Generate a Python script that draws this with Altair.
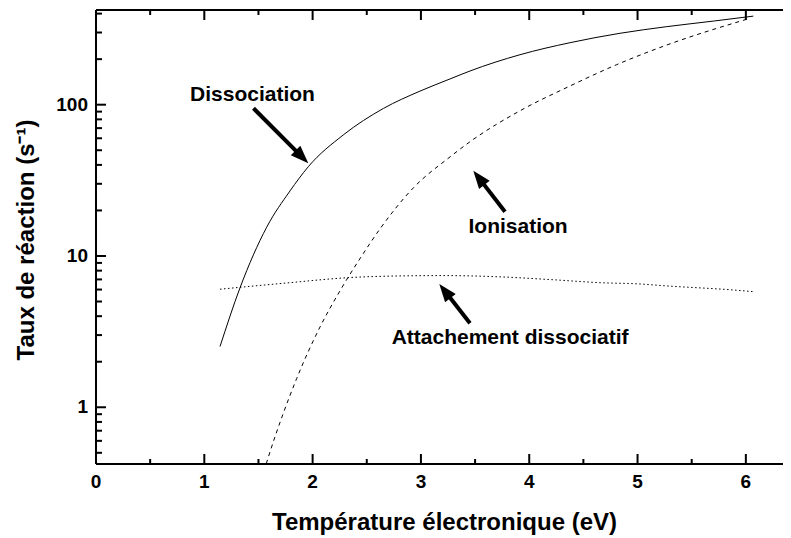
import altair as alt
import pandas as pd
import numpy as np

# ---------------- data ----------------
diss_x = [1.145, 1.330, 1.576, 1.791, 1.960, 2.283, 2.653, 2.992, 3.269, 3.453, 3.915, 4.377, 4.838, 5.270, 5.700, 6.069]
diss_y = [2.52, 6.17, 15.5, 26.9, 38.9, 63.1, 94.4, 123, 148, 167, 214, 257, 296.5, 328, 357, 385]

ion_x = [1.550, 1.591, 1.853, 2.068, 2.253, 2.453, 2.622, 2.930, 3.269, 3.453, 3.915, 4.377, 4.808, 5.270, 6.008]
ion_y = [0.377, 0.468, 1.55, 3.39, 5.89, 10.0, 15.1, 28.2, 45.2, 56.9, 91.2, 133, 184, 248, 367]

att_x = [1.145, 1.730, 2.345, 2.800, 3.200, 3.730, 4.200, 4.654, 5.023, 5.270, 5.884, 6.069]
att_y = [6.03, 6.60, 7.20, 7.38, 7.42, 7.28, 6.98, 6.66, 6.53, 6.34, 5.96, 5.81]

label_text = ["Dissociation", "Ionisation", "Attachement dissociatif"]
label_x = [1.445, 3.897, 3.823]
label_y = [116, 15.6, 2.87]

arrow_start_x = [1.454, 3.776, 3.453]
arrow_start_y = [94.7, 19.6, 3.59]
arrow_tip_x = [1.960, 3.484, 3.170]
arrow_tip_y = [41.0, 36.6, 6.53]
arrow_angle = [135, 322, 322]
arrow_head_back = [0.116, 0.174, 0.18]

x_major = [0, 1, 2, 3, 4, 5, 6]
x_major_labels = ["0", "1", "2", "3", "4", "5", "6"]
x_minor = [0.5, 1.5, 2.5, 3.5, 4.5, 5.5]
y_major = [1, 10, 100]
y_major_labels = ["1", "10", "100"]
y_minor = [0.5, 0.6, 0.7, 0.8, 0.9, 2, 3, 4, 5, 6, 7, 8, 9,
           20, 30, 40, 50, 60, 70, 80, 90, 200, 300, 400]

x_title = "Température électronique (eV)"
y_title = "Taux de réaction (s⁻¹)"

# ---------------- layout ----------------
W = 687
H = 454
FONT = "Liberation Sans"

xscale = alt.Scale(domain=[0, 6.343], nice=False, zero=False)
yscale = alt.Scale(type="log", domain=[0.4217, 422.6], nice=False)

Xn = lambda f: alt.X(f, scale=xscale, axis=None)
Yn = lambda f: alt.Y(f, scale=yscale, axis=None)

diss_df = pd.DataFrame({"x": diss_x, "y": diss_y})
ion_df = pd.DataFrame({"x": ion_x, "y": ion_y})
att_df = pd.DataFrame({"x": att_x, "y": att_y})

diss = alt.Chart(diss_df).mark_line(color="black", strokeWidth=1, interpolate="monotone", clip=True).encode(
    x=Xn("x:Q"), y=Yn("y:Q"))
ion = alt.Chart(ion_df).mark_line(color="black", strokeWidth=1, strokeDash=[4, 4], interpolate="monotone", clip=True).encode(
    x=Xn("x:Q"), y=Yn("y:Q"))
att = alt.Chart(att_df).mark_line(color="black", strokeWidth=1, strokeDash=[1.5, 2.5], interpolate="monotone", clip=True).encode(
    x=Xn("x:Q"), y=Yn("y:Q"))


# ---- frame: axis lines and inward ticks ----
def xticks(vals, y0, y1):
    return alt.Chart(pd.DataFrame({"v": vals})).mark_rule(color="black", strokeWidth=2).encode(
        x=Xn("v:Q"), y=alt.value(y0), y2=alt.value(y1))


def yticks(vals, length):
    return alt.Chart(pd.DataFrame({"v": vals})).mark_rule(color="black", strokeWidth=2).encode(
        y=Yn("v:Q"), x=alt.value(0), x2=alt.value(length))


ticks = [
    xticks(x_major, H, H - 10), xticks(x_minor, H, H - 5),
    xticks(x_major, 0, 10), xticks(x_minor, 0, 5),
    yticks(y_major, 10), yticks(y_minor, 6),
]

frame_df = pd.DataFrame({"a": [0]})
bottom_line = alt.Chart(frame_df).mark_rule(color="black", strokeWidth=2).encode(
    x=alt.value(0), x2=alt.value(W), y=alt.value(H))
top_line = alt.Chart(frame_df).mark_rule(color="black", strokeWidth=2).encode(
    x=alt.value(0), x2=alt.value(W), y=alt.value(0))
left_line = alt.Chart(frame_df).mark_rule(color="black", strokeWidth=2).encode(
    x=alt.value(0), y=alt.value(0), y2=alt.value(H))

# ---- tick labels and axis titles ----
xlab = alt.Chart(pd.DataFrame({"v": x_major, "t": x_major_labels})).mark_text(
    font=FONT, fontSize=19, fontWeight="bold", color="black", align="center", baseline="middle"
).encode(x=Xn("v:Q"), y=alt.value(H + 18), text="t:N")

ylab = alt.Chart(pd.DataFrame({"v": y_major, "t": y_major_labels})).mark_text(
    font=FONT, fontSize=19, fontWeight="bold", color="black", align="right", baseline="middle"
).encode(y=Yn("v:Q"), x=alt.value(-8), text="t:N")

xtit = alt.Chart(pd.DataFrame({"t": [x_title]})).mark_text(
    font=FONT, fontSize=24, fontWeight="bold", color="black", align="center", baseline="middle"
).encode(x=alt.value(W / 2 + 5), y=alt.value(H + 59), text="t:N")

ytit = alt.Chart(pd.DataFrame({"t": [y_title]})).mark_text(
    font=FONT, fontSize=24, fontWeight="bold", color="black", align="center", baseline="middle",
    angle=270
).encode(x=alt.value(-69), y=alt.value(H / 2 + 3), text="t:N")

# ---- annotations ----
lab_df = pd.DataFrame({"t": label_text, "x": label_x, "y": label_y})
labels = alt.Chart(lab_df).mark_text(font=FONT, fontSize=21, fontWeight="bold", color="black",
                                     align="center", baseline="middle").encode(
    x=Xn("x:Q"), y=Yn("y:Q"), text="t:N")

head_x, head_y = [], []
for sx, sy, tx, ty, b in zip(arrow_start_x, arrow_start_y, arrow_tip_x, arrow_tip_y, arrow_head_back):
    head_x.append(tx + b * (sx - tx))
    head_y.append(10 ** (np.log10(ty) + b * (np.log10(sy) - np.log10(ty))))

shaft_rows = []
for i in range(3):
    shaft_rows.append({"id": i, "o": 0, "x": arrow_start_x[i], "y": arrow_start_y[i]})
    shaft_rows.append({"id": i, "o": 1, "x": head_x[i], "y": head_y[i]})
shaft_df = pd.DataFrame(shaft_rows)
shafts = alt.Chart(shaft_df).mark_line(color="black", strokeWidth=4, strokeCap="butt").encode(
    x=Xn("x:Q"), y=Yn("y:Q"), detail="id:N", order="o:Q")

head_df = pd.DataFrame({"x": head_x, "y": head_y, "a": arrow_angle})
heads = alt.Chart(head_df).mark_point(shape="M0,-1L-0.75,1L0.75,1Z", filled=True, color="black",
                                      opacity=1, size=324, strokeWidth=0).encode(
    x=Xn("x:Q"), y=Yn("y:Q"), angle=alt.Angle("a:Q", scale=None))

chart = alt.layer(diss, ion, att, *ticks, bottom_line, top_line, left_line,
                  xlab, ylab, xtit, ytit, labels, shafts, heads).properties(
    width=W, height=H,
    background="white",
    autosize=alt.AutoSizeParams(type="none"),
    padding={"left": 88, "top": 2, "right": 0, "bottom": 74},
).configure_view(stroke=None)

chart.save("out.html", embed_options={"renderer": "svg", "actions": False})
